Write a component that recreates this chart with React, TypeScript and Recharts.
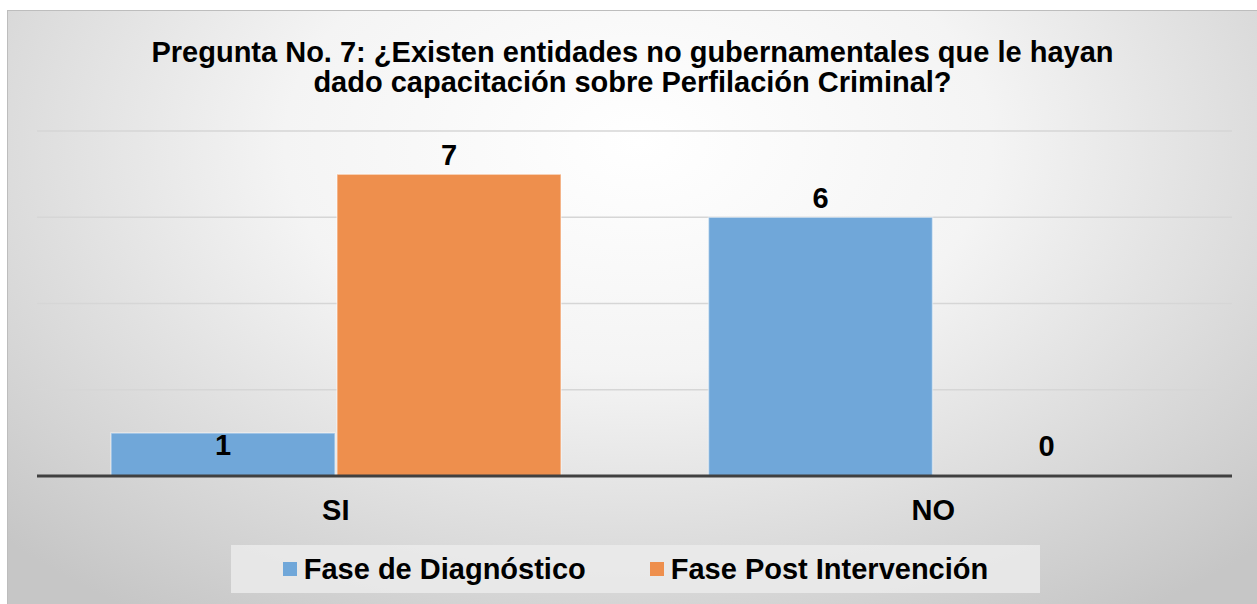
import { BarChart, Bar, XAxis, YAxis, CartesianGrid, Legend, ReferenceLine } from 'recharts';

const categories = ['SI', 'NO'];
const diagnostico = [1, 6];
const postIntervencion = [7, 0];
const yTicks = [0, 2, 4, 6, 8];

const seriesNames = ['Fase de Diagnóstico', 'Fase Post Intervención'];
const seriesColors = ['#70a7d9', '#ee8f4d'];

const data = categories.map((cat, i) => ({
  cat,
  diag: diagnostico[i],
  post: postIntervencion[i],
}));

const FONT = '"Liberation Sans", Arial, sans-serif';

// Excel placed the small values inside / just above the baseline
function renderLabel(props: any) {
  const { x, y, width, height, value } = props;
  const cx = Number(x) + Number(width) / 2;
  const v = Number(value);
  const base = Number(y) + Number(height);
  let ty = Number(y) - 19;
  if (v === 1) ty = Number(y) + 12;
  if (v === 0) ty = base - 30;
  return (
    <text
      x={cx}
      y={ty}
      textAnchor="middle"
      dominantBaseline="central"
      fontFamily={FONT}
      fontWeight="bold"
      fontSize={29}
      fill="#000"
    >
      {value}
    </text>
  );
}

function LegendBox() {
  return (
    <div
      style={{
        width: 809,
        height: 48,
        background: 'rgba(235,235,235,0.85)',
        display: 'flex',
        alignItems: 'center',
        justifyContent: 'center',
        gap: 64,
        fontFamily: FONT,
        fontWeight: 'bold',
        fontSize: 29,
        color: '#000',
      }}
    >
      {seriesNames.map((name, i) => (
        <div key={name} style={{ display: 'flex', alignItems: 'center' }}>
          <span
            style={{
              display: 'inline-block',
              width: 14,
              height: 14,
              background: seriesColors[i],
              marginRight: 7,
            }}
          />
          {name}
        </div>
      ))}
    </div>
  );
}

export default function App() {
  return (
    <div style={{ position: 'relative', width: 1257, height: 604, background: '#fff', overflow: 'hidden' }}>
      <style>{'body{margin:0}'}</style>
      <div
        style={{
          position: 'absolute',
          left: 7,
          top: 10,
          width: 1260,
          height: 600,
          border: '1px solid #bdbdbd',
          background: 'radial-gradient(ellipse 70% 95% at 50% 22%, #ffffff 0%, #f4f4f4 40%, #c6c6c6 100%)',
        }}
      />
      <div
        style={{
          position: 'absolute',
          left: 0,
          top: 37,
          width: 1265,
          textAlign: 'center',
          fontFamily: FONT,
          fontWeight: 'bold',
          fontSize: 29,
          lineHeight: '30px',
          color: '#000',
        }}
      >
        Pregunta No. 7: ¿Existen entidades no gubernamentales que le hayan
        <br />
        dado capacitación sobre Perfilación Criminal?
      </div>
      <div style={{ position: 'absolute', left: 0, top: 0 }}>
        <BarChart
          width={1257}
          height={604}
          data={data}
          margin={{ top: 131, right: 25, left: 37, bottom: 50 }}
          barSize={224}
          barGap={2}
        >
          <CartesianGrid vertical={false} stroke="#d6d6d6" strokeWidth={1.5} />
          <XAxis
            dataKey="cat"
            axisLine={false}
            tickLine={false}
            height={30}
            tick={{ fontFamily: FONT, fontWeight: 'bold', fontSize: 29, fill: '#000', dy: 15 }}
            interval={0}
          />
          <YAxis hide domain={[0, 8]} ticks={yTicks} />
          <Legend
            verticalAlign="bottom"
            align="left"
            content={() => <LegendBox />}
            wrapperStyle={{ position: 'absolute', left: 231, top: 545, width: 809, bottom: 'auto' }}
          />
          <Bar
            dataKey="diag"
            name={seriesNames[0]}
            fill={seriesColors[0]}
            stroke="rgba(255,255,255,0.45)"
            strokeWidth={1.5}
            isAnimationActive={false}
            label={renderLabel}
          />
          <Bar
            dataKey="post"
            name={seriesNames[1]}
            fill={seriesColors[1]}
            stroke="rgba(255,255,255,0.45)"
            strokeWidth={1.5}
            minPointSize={1}
            isAnimationActive={false}
            label={renderLabel}
          />
          <ReferenceLine y={0} stroke="#404040" strokeWidth={3} />
        </BarChart>
      </div>
    </div>
  );
}
